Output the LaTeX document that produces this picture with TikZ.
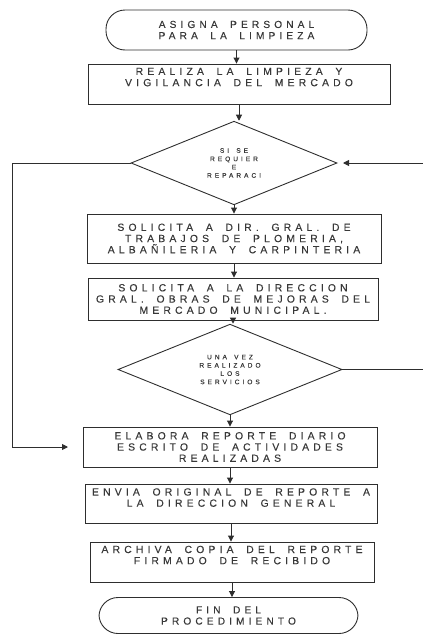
\documentclass[tikz,border=0pt]{standalone}
\usepackage{fontspec}
\setmainfont{Liberation Sans}
\newfontfamily\boxfont[LetterSpace=40,WordSpace=1.8,FakeBold=0.15]{Liberation Sans}
\newfontfamily\dfont[LetterSpace=45,WordSpace=1.5,FakeBold=0.1]{Liberation Sans}
\usetikzlibrary{shapes.geometric,arrows.meta}
\definecolor{ink}{gray}{0.18}
\definecolor{txt}{gray}{0.22}
\begin{document}
\begin{tikzpicture}[x=1pt,y=-1pt,
  base/.style={draw=ink, line width=0.9pt, inner sep=0pt, align=center, text=txt},
  stepbox/.style={base, rectangle, font=\boxfont\fontsize{10.4}{11.2}\selectfont},
  term/.style={base, rectangle, rounded corners=19pt, font=\boxfont\fontsize{10.2}{11.2}\selectfont},
  decide/.style={base, diamond, font=\dfont\fontsize{6.6}{8.3}\selectfont},
  flow/.style={draw=ink, line width=0.9pt, -{Triangle[length=6pt,width=6pt]}},
  plain/.style={draw=ink, line width=0.9pt}]
\useasboundingbox (0,0) rectangle (423,635);
\node[term, minimum width=261pt, minimum height=40pt] (t1) at (236.5,30) {ASIGNA PERSONAL\\PARA LA LIMPIEZA};
\node[stepbox, minimum width=302pt, minimum height=40pt, text depth=14pt] (b2) at (239,84) {REALIZA LA LIMPIEZA Y\\VIGILANCIA DEL MERCADO};
\node[decide, minimum width=206pt, minimum height=80pt] (d1) at (234,163) {SI SE\\REQUIER\\E\\REPARACI};
\node[stepbox, minimum width=294pt, minimum height=49pt] (b3) at (234,238.5) {SOLICITA A DIR. GRAL. DE\\TRABAJOS DE PLOMERIA,\\ALBAÑILERIA Y CARPINTERIA};
\node[stepbox, minimum width=290pt, minimum height=42pt] (b4) at (233,299) {SOLICITA A LA DIRECCION\\GRAL. OBRAS DE MEJORAS DEL\\MERCADO MUNICIPAL.};
\node[decide, minimum width=224pt, minimum height=67pt] (d2) at (230,369.5) {UNA VEZ\\REALIZADO\\LOS\\SERVICIOS};
\node[stepbox, minimum width=294pt, minimum height=40pt] (b5) at (230,447) {ELABORA REPORTE DIARIO\\ESCRITO DE ACTIVIDADES\\REALIZADAS};
\node[stepbox, minimum width=292pt, minimum height=39pt, text depth=12pt] (b6) at (231,503.5) {ENVIA ORIGINAL DE REPORTE A\\LA DIRECCION GENERAL};
\node[stepbox, minimum width=284pt, minimum height=40pt, text depth=14pt] (b7) at (232,562) {ARCHIVA COPIA DEL REPORTE\\FIRMADO DE RECIBIDO};
\node[term, minimum width=259pt, minimum height=36pt] (t2) at (228.5,615.5) {FIN DEL\\PROCEDIMIENTO};
\draw[flow] (t1.south) -- (t1.south |- b2.north);
\draw[flow] (b2.south) -- (b2.south |- d1.north);
\draw[flow] (d1.south) -- (d1.south |- b3.north);
\draw[flow] (b3.south) -- (b3.south |- b4.north);
\draw[flow] (b4.south) -- (b4.south |- d2.north);
\draw[flow] (d2.south) -- (d2.south |- b5.north);
\draw[flow] (b5.south) -- (b5.south |- b6.north);
\draw[flow] (b6.south) -- (b6.south |- b7.north);
\draw[flow] (b7.south) -- (b7.south |- t2.north);
\coordinate (lx) at (12,0);
\coordinate (inend) at (68,447);
\draw[flow] (d1.west) -| (lx |- inend) -- (inend);
\coordinate (redge) at (423,163);
\coordinate (rtip) at (343,163);
\draw[flow] (redge) -- (rtip);
\coordinate (redge2) at (423,369.5);
\draw[plain] (d2.east) -- (redge2);
\end{tikzpicture}
\end{document}
